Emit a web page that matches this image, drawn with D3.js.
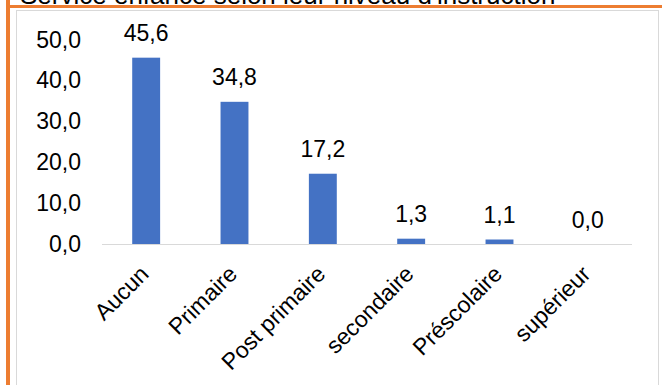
<!DOCTYPE html>
<html>
<head>
<meta charset="utf-8">
<script src="https://cdn.jsdelivr.net/npm/d3@7"></script>
<style>
  html, body { margin: 0; padding: 0; background: #fff; overflow: hidden; }
  svg { display: block; font-family: "Liberation Sans", Arial, sans-serif; }
</style>
</head>
<body>
<svg id="chart" width="662" height="385"></svg>
<script>
const title = "Service enfance selon leur niveau d'instruction";
const categories = ["Aucun", "Primaire", "Post primaire", "secondaire", "Préscolaire", "supérieur"];
const values = [45.6, 34.8, 17.2, 1.3, 1.1, 0.0];
const yTicks = [0, 10, 20, 30, 40, 50];

const svg = d3.select("#chart");
const W = 662, H = 385;
const fmt = v => d3.format(".1f")(v).replace(".", ",");

// frame
svg.append("rect").attr("x", 0).attr("y", 0).attr("width", W).attr("height", H).attr("fill", "#fff");
svg.append("rect").attr("x", 16.5).attr("y", 10.5).attr("width", 642).attr("height", 400)
  .attr("fill", "none").attr("stroke", "#d9d9d9").attr("stroke-width", 1);

// clipped title
svg.append("text").attr("x", 20).attr("y", 4).attr("font-size", 26).attr("fill", "#000").text(title);

// orange borders
svg.append("rect").attr("x", 6).attr("y", 5).attr("width", W - 6).attr("height", 3).attr("fill", "#ED7D31");
svg.append("rect").attr("x", 6).attr("y", 0).attr("width", 4).attr("height", H).attr("fill", "#ED7D31");

const x = d3.scaleBand().domain(categories).range([102, 632]).paddingInner(0.684).paddingOuter(0.342);
const y = d3.scaleLinear().domain([0, 50]).range([244, 39.7]);

// y axis labels
const yAxis = d3.axisLeft(y).tickValues(yTicks).tickFormat(fmt).tickSize(0).tickPadding(0);
const gy = svg.append("g").attr("transform", "translate(81,0)").call(yAxis);
gy.select(".domain").remove();
gy.selectAll("text").attr("font-size", 23).attr("fill", "#000").attr("font-family", "Liberation Sans, Arial, sans-serif");

// bars
svg.append("g").selectAll("rect").data(values).join("rect")
  .attr("x", (d, i) => x(categories[i]))
  .attr("y", d => y(d))
  .attr("width", x.bandwidth())
  .attr("height", d => y(0) - y(d))
  .attr("fill", "#4472C4");

// x axis line
const xAxis = d3.axisBottom(x).tickSize(0).tickPadding(0);
const gx = svg.append("g").attr("transform", "translate(0,244.5)").call(xAxis);
gx.select(".domain").attr("stroke", "#d9d9d9").attr("stroke-width", 1.2).attr("d", "M102,0H632");
gx.selectAll(".tick text")
  .attr("font-size", 23).attr("fill", "#000").attr("font-family", "Liberation Sans, Arial, sans-serif")
  .attr("text-anchor", "end").attr("dy", null).attr("y", null)
  .attr("transform", "translate(4,31) rotate(-45)");

// value labels
svg.append("g").selectAll("text").data(values).join("text")
  .attr("x", (d, i) => x(categories[i]) + x.bandwidth() / 2)
  .attr("y", d => y(d) - 16.5)
  .attr("text-anchor", "middle").attr("font-size", 23).attr("fill", "#000")
  .text(d => fmt(d));
</script>
</body>
</html>
